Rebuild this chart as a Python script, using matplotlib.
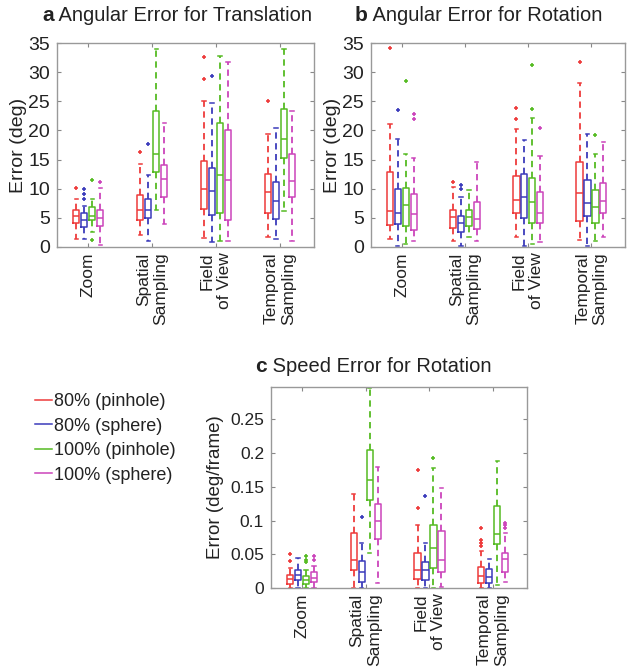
import matplotlib
matplotlib.use("Agg")
import matplotlib.pyplot as plt
from matplotlib.lines import Line2D

plt.rcParams['font.family'] = ['Liberation Sans', 'DejaVu Sans']

categories = ['Zoom', 'Spatial\nSampling', 'Field\nof View', 'Temporal\nSampling']
series = ['80% (pinhole)', '80% (sphere)', '100% (pinhole)', '100% (sphere)']
colors = ['#ee3b3b', '#3b3bbb', '#55bb22', '#cc44bb']

# a: Angular Error for Translation (rows = series, cols = categories)
a_med = [[5.3, 6.3, 10.0, 9.5],
         [4.7, 6.4, 9.6, 7.9],
         [5.3, 15.9, 12.4, 18.6],
         [5.0, 11.6, 11.5, 11.3]]
a_q1 = [[4.1, 4.6, 6.5, 5.9],
        [3.4, 4.9, 5.5, 4.8],
        [4.6, 12.9, 5.9, 15.3],
        [3.6, 8.6, 4.6, 8.6]]
a_q3 = [[6.3, 9.0, 14.8, 12.6],
        [5.8, 8.2, 13.6, 11.2],
        [6.8, 23.4, 21.3, 23.7],
        [6.3, 14.0, 20.0, 16.0]]
a_lo = [[1.4, 2.0, 1.6, 1.8],
        [1.3, 1.1, 0.9, 1.4],
        [2.5, 6.3, 1.0, 6.2],
        [0.3, 4.0, 1.1, 1.0]]
a_hi = [[8.3, 14.2, 25.0, 19.4],
        [7.0, 12.4, 24.7, 20.4],
        [8.3, 34.0, 32.8, 34.0],
        [10.1, 21.2, 31.8, 23.4]]
a_out = [[[10.2], [16.3], [28.8, 32.6], [25.0]],
         [[8.2, 9.1, 9.9], [17.6], [29.3], []],
         [[11.5, 1.2], [], [], []],
         [[11.2], [], [], []]]

# b: Angular Error for Rotation
b_med = [[6.1, 5.2, 8.1, 9.3],
         [5.9, 4.2, 8.5, 7.5],
         [7.2, 5.2, 7.8, 6.9],
         [5.7, 4.8, 5.8, 7.9]]
b_q1 = [[3.8, 3.2, 5.8, 4.5],
        [3.9, 2.5, 4.9, 5.4],
        [3.6, 3.6, 4.2, 4.2],
        [3.0, 3.1, 4.2, 5.9]]
b_q3 = [[12.9, 6.3, 12.2, 14.6],
        [10.0, 5.3, 12.5, 11.5],
        [10.2, 6.3, 11.8, 9.8],
        [9.1, 7.8, 9.5, 10.9]]
b_lo = [[1.3, 1.1, 1.8, 1.2],
        [0.2, 0.2, 0.2, 0.2],
        [0.6, 1.8, 0.6, 1.1],
        [1.1, 1.1, 0.9, 1.7]]
b_hi = [[21.1, 10.3, 20.2, 28.2],
        [18.6, 8.5, 18.4, 19.4],
        [16.0, 9.8, 22.2, 16.0],
        [15.2, 14.5, 15.6, 18.1]]
b_out = [[[34.2], [11.2], [21.9, 23.9], [31.8]],
         [[23.5], [9.9, 10.7], [], []],
         [[28.5], [], [23.6, 31.2], [19.2]],
         [[21.9, 22.8], [], [20.5], []]]

# c: Speed Error for Rotation
c_med = [[0.013, 0.042, 0.027, 0.018],
         [0.019, 0.023, 0.027, 0.016],
         [0.012, 0.160, 0.060, 0.080],
         [0.015, 0.100, 0.042, 0.043]]
c_q1 = [[0.006, 0.026, 0.013, 0.007],
        [0.012, 0.009, 0.012, 0.007],
        [0.006, 0.131, 0.029, 0.065],
        [0.0085, 0.072, 0.023, 0.024]]
c_q3 = [[0.020, 0.082, 0.052, 0.031],
        [0.026, 0.040, 0.038, 0.028],
        [0.018, 0.204, 0.093, 0.122],
        [0.023, 0.125, 0.085, 0.052]]
c_lo = [[0.0, 0.0, 0.0, 0.0],
        [0.0, 0.0, 0.0, 0.0],
        [0.0, 0.052, 0.0, 0.005],
        [0.0, 0.008, 0.002, 0.009]]
c_hi = [[0.029, 0.139, 0.094, 0.055],
        [0.045, 0.066, 0.066, 0.043],
        [0.027, 0.297, 0.178, 0.188],
        [0.032, 0.179, 0.148, 0.081]]
c_out = [[[0.040, 0.050], [], [0.118, 0.175], [0.063, 0.067, 0.071, 0.089]],
         [[], [0.105], [0.136], []],
         [[0.038, 0.042, 0.047], [], [0.192], []],
         [[0.041, 0.047], [], [], [0.089, 0.093, 0.097]]]

a_yticks = [0, 5, 10, 15, 20, 25, 30, 35]
c_yticks = [0, 0.05, 0.1, 0.15, 0.2, 0.25]
c_yticklabels = ['0', '0.05', '0.1', '0.15', '0.2', '0.25']

W, H = 631, 671
fig = plt.figure(figsize=(W / 100, H / 100), dpi=100)


def draw_boxes(ax, med, q1, q3, lo, hi, out):
    for k, col in enumerate(colors):
        stats = []
        for g in range(len(categories)):
            stats.append(dict(med=med[k][g], q1=q1[k][g], q3=q3[k][g],
                              whislo=lo[k][g], whishi=hi[k][g], fliers=out[k][g]))
        pos = [1 + 8 * g + k for g in range(len(categories))]
        ax.bxp(stats, positions=pos, widths=0.8, capwidths=0.4, manage_ticks=False,
               boxprops=dict(color=col, linewidth=1.1),
               medianprops=dict(color=col, linewidth=1.1),
               whiskerprops=dict(color=col, linewidth=1.3, linestyle=(0, (3.5, 2.5))),
               capprops=dict(color=col, linewidth=1.1),
               flierprops=dict(marker='+', markeredgecolor=col, markersize=3.2,
                               markeredgewidth=1.2, linestyle='none'))
    ax.set_xlim(-1.4, 30.75)
    ax.set_xticks([2.5 + 8 * g for g in range(len(categories))])
    ax.set_xticklabels(categories, rotation=90, fontsize=12.5, ha='center', va='top',
                       multialignment='right', color='#222222')
    ax.tick_params(direction='in', top=True, right=True, length=3, color='#888888',
                   labelcolor='#222222')
    ax.tick_params(axis='x', pad=4)
    ax.tick_params(axis='y', pad=5)
    for s in ax.spines.values():
        s.set_color('#999999')
        s.set_linewidth(1.0)


def panel_title(x, y, letter, text):
    t = fig.text(x, y, letter, fontsize=15, fontweight='bold', color='#222222', va='baseline')
    fig.axes[0].annotate(' ' + text, xy=(1, 0), xycoords=t, fontsize=14.5, color='#222222',
                         va='bottom', annotation_clip=False)


ax_a = fig.add_axes([57 / W, 1 - 247 / H, 257 / W, 204 / H])
draw_boxes(ax_a, a_med, a_q1, a_q3, a_lo, a_hi, a_out)
ax_a.set_ylim(0, 35)
ax_a.set_yticks(a_yticks)
ax_a.tick_params(axis='y', labelsize=14)
ax_a.set_ylabel('Error (deg)', fontsize=14, color='#222222', labelpad=1)

ax_b = fig.add_axes([371 / W, 1 - 247 / H, 254 / W, 204 / H])
draw_boxes(ax_b, b_med, b_q1, b_q3, b_lo, b_hi, b_out)
ax_b.set_ylim(0, 35)
ax_b.set_yticks(a_yticks)
ax_b.tick_params(axis='y', labelsize=14)
ax_b.set_ylabel('Error (deg)', fontsize=14, color='#222222', labelpad=1)

ax_c = fig.add_axes([271 / W, 1 - 588 / H, 256 / W, 201 / H])
draw_boxes(ax_c, c_med, c_q1, c_q3, c_lo, c_hi, c_out)
ax_c.set_ylim(0, 0.298)
ax_c.set_yticks(c_yticks)
ax_c.set_yticklabels(c_yticklabels)
ax_c.tick_params(axis='y', labelsize=12.5)
ax_c.set_ylabel('Error (deg/frame)', fontsize=13.5, color='#222222', labelpad=4)

panel_title(42 / W, 1 - 21 / H, 'a', 'Angular Error for Translation')
panel_title(355 / W, 1 - 21 / H, 'b', 'Angular Error for Rotation')
panel_title(255 / W, 1 - 372 / H, 'c', 'Speed Error for Rotation')

handles = [Line2D([0], [0], color=c, linewidth=1.1) for c in colors]
fig.legend(handles, series, loc='upper left', bbox_to_anchor=(35 / W, 1 - 393 / H),
           frameon=False, fontsize=13, handlelength=0.95, handletextpad=0.1,
           labelspacing=0.42, borderpad=0, borderaxespad=0, labelcolor='#222222')

fig.savefig('out.png', dpi=100)
